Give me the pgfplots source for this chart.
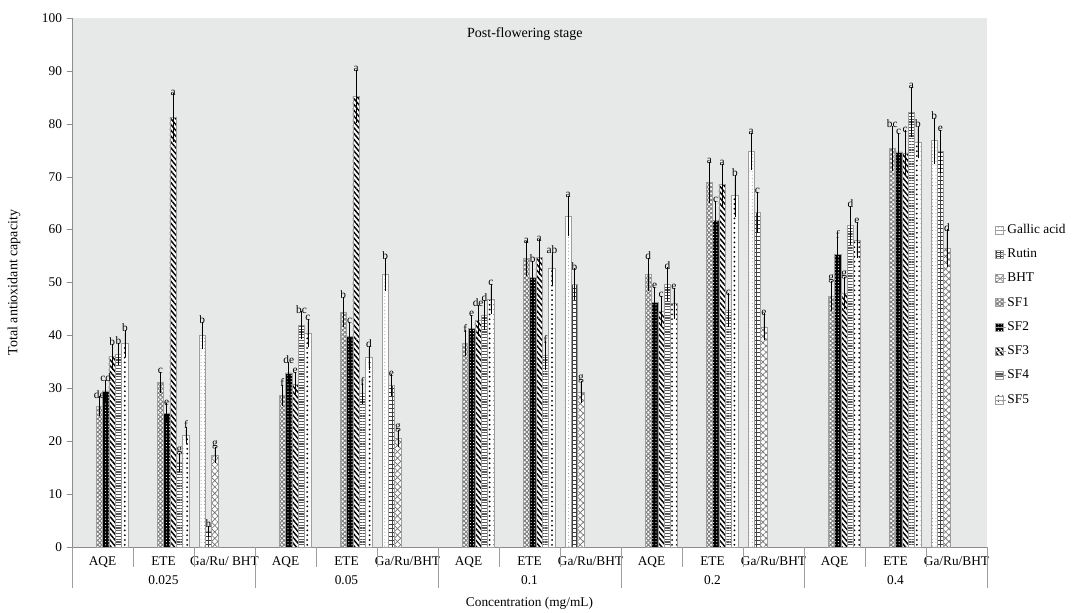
\documentclass[border=0pt]{standalone}
\usepackage{fontspec}
\setmainfont{Liberation Serif}
\usepackage{pgfplots}
\pgfplotsset{compat=1.18}
\usetikzlibrary{patterns.meta}
\definecolor{bgc}{RGB}{231,232,232}
\definecolor{edge}{RGB}{158,158,158}
\definecolor{axc}{RGB}{140,140,140}
\tikzset{
 sGal/.style={draw=edge, fill=white, postaction={pattern color=gray, pattern={Dots[radius=0.35pt, distance=2.6pt]}}},
 sRut/.style={draw=edge, fill=white, postaction={pattern color=black!75, pattern={Hatch[angle=0, distance=3pt, line width=0.55pt]}}},
 sBHT/.style={draw=edge, fill=white, postaction={pattern color=gray!90!black, pattern={Hatch[angle=45, distance=3.4pt, line width=0.5pt]}}},
 sSF1/.style={draw=edge, fill=white, postaction={pattern color=gray, pattern={Hatch[angle=45, distance=2.3pt, line width=0.75pt]}}},
 sSF2/.style={draw=edge, fill=black, postaction={pattern color=white, pattern={Dots[radius=0.45pt, distance=2.4pt]}}},
 sSF3/.style={draw=edge, fill=white, postaction={pattern color=black, pattern={Lines[angle=-50, distance=2.8pt, line width=1.1pt]}}},
 sSF4/.style={draw=edge, fill=white, postaction={pattern color=black!65, pattern={Lines[angle=0, distance=2.1pt, line width=0.8pt]}}},
 sSF5/.style={draw=edge, fill=white, postaction={pattern color=black, pattern={Dots[radius=0.75pt, distance=3.6pt]}}},
}
\begin{document}
\begin{tikzpicture}
\path[use as bounding box] (-54pt,-48.75pt) rectangle (758.25pt,410.25pt);
\begin{axis}[
 at={(0pt,0pt)}, anchor=south west,
 scale only axis, width=686.25pt, height=396.75pt,
 xmin=-0.5, xmax=14.5, ymin=0, ymax=100,
 ybar=0pt, bar width=4.8pt,
 axis background/.style={fill=bgc},
 axis x line*=bottom, axis y line*=left,
 axis line style={axc, line width=0.6pt},
 ytick={0,10,...,100},
 tick align=outside, major tick length=4pt,
 ytick style={axc},
 xtick={0,...,14}, xtick style={draw=none},
 xticklabels={AQE,ETE,Ga/Ru/ BHT,AQE,ETE,Ga/Ru/BHT,AQE,ETE,Ga/Ru/BHT,AQE,ETE,Ga/Ru/BHT,AQE,ETE,Ga/Ru/BHT},
 tick label style={font=\fontsize{10}{12}\selectfont},
 /pgf/number format/assume math mode=true,
 clip=false,
 title={Post-flowering stage},
 title style={at={(0.495,0.955)}, anchor=center, font=\fontsize{10.5}{12}\selectfont},
 point meta=explicit symbolic,
 visualization depends on={\thisrow{e}\as\myerr},
 nodes near coords,
 every node near coord/.append style={font=\fontsize{8.5}{9}\selectfont, text=black, anchor=south, inner sep=0.6pt, yshift=\myerr*3.975pt},
 error bars/y dir=both, error bars/y explicit,
 error bars/error bar style={black, line width=0.5pt},
 error bars/error mark options={black, mark size=2.2pt, line width=0.5pt},
 legend style={at={(1.004,0.62)}, anchor=north west, draw=none, fill=none, font=\fontsize{10}{12}\selectfont, row sep=6.2pt, nodes={inner sep=1pt, text height=7.5pt, text depth=2.5pt}},
 legend cell align=left,
 legend image code/.code={\draw[#1] (0pt,-3pt) rectangle (6pt,3pt); \path (0pt,0pt) -- (8pt,0pt);},
]
\addplot[sGal] table[x=x,y=y,y error=e,meta=l] {
x y e l
2 40.0 2.0 b
5 51.5 2.6 b
8 62.6 3.2 a
11 74.8 3.0 a
14 76.8 3.8 b
};
\addplot[sRut] table[x=x,y=y,y error=e,meta=l] {
x y e l
2 3.0 0.5 h
5 30.6 1.5 e
8 49.7 2.4 b
11 63.3 3.3 c
14 74.8 3.5 e
};
\addplot[sBHT] table[x=x,y=y,y error=e,meta=l] {
x y e l
2 17.4 0.9 g
5 20.5 1.1 g
8 29.3 1.6 g
11 41.6 2.0 e
14 56.5 3.0 d
};
\addplot[sSF1] table[x=x,y=y,y error=e,meta=l] {
x y e l
0 26.6 1.3 de
1 31.1 1.4 c
3 28.7 1.4 f
4 44.4 2.3 b
6 38.5 1.9 f
7 54.5 2.7 a
9 51.5 2.6 d
10 68.9 3.4 a
12 47.4 2.3 g
13 75.3 3.7 bc
};
\addplot[sSF2] table[x=x,y=y,y error=e,meta=l] {
x y e l
0 29.5 1.5 cd
1 25.3 1.3 e
3 32.9 1.6 de
4 39.8 2.2 c
6 41.3 2.0 e
7 51.0 2.5 b
9 46.3 2.3 e
10 61.8 3.1 c
12 55.3 2.8 f
13 74.7 3.0 c
};
\addplot[sSF3] table[x=x,y=y,y error=e,meta=l] {
x y e l
0 36.0 1.9 b
1 81.2 4.0 a
3 30.8 1.7 e
4 85.2 4.5 a
6 42.8 2.4 de
7 54.8 2.8 a
9 44.5 2.4 c
10 68.5 3.4 a
12 48.0 2.4 g
13 74.5 3.7 c
};
\addplot[sSF4] table[x=x,y=y,y error=e,meta=l] {
x y e l
0 36.5 1.5 b
1 16.0 1.2 g
3 41.9 2.1 bc
4 29.0 1.4 f
6 43.8 2.3 d
7 36.2 2.1 f
9 49.7 2.6 d
10 44.8 2.6 c
12 60.8 3.1 d
13 82.2 4.2 a
};
\addplot[sSF5] table[x=x,y=y,y error=e,meta=l] {
x y e l
0 38.5 2.0 b
1 21.1 1.1 f
3 40.4 2.1 c
4 35.8 1.7 d
6 46.9 2.3 c
7 52.6 2.6 ab
9 46.1 2.4 e
10 66.4 3.4 b
12 58.0 2.9 e
13 76.5 2.5 b
};
\legend{Gallic acid, Rutin, BHT, SF1, SF2, SF3, SF4, SF5}
\pgfplotsinvokeforeach{0.5,1.5,3.5,4.5,6.5,7.5,9.5,10.5,12.5,13.5}{
 \draw[edge, line width=0.6pt] (axis cs:#1,0) -- ++(0pt,-15pt);
}
\pgfplotsinvokeforeach{-0.5,2.5,5.5,8.5,11.5,14.5}{
 \draw[edge, line width=0.6pt] (axis cs:#1,0) -- ++(0pt,-30.75pt);
}
\node[font=\fontsize{10}{12}\selectfont] at ([yshift=-24.75pt]axis cs:1,0) {0.025};
\node[font=\fontsize{10}{12}\selectfont] at ([yshift=-24.75pt]axis cs:4,0) {0.05};
\node[font=\fontsize{10}{12}\selectfont] at ([yshift=-24.75pt]axis cs:7,0) {0.1};
\node[font=\fontsize{10}{12}\selectfont] at ([yshift=-24.75pt]axis cs:10,0) {0.2};
\node[font=\fontsize{10}{12}\selectfont] at ([yshift=-24.75pt]axis cs:13,0) {0.4};
\node[font=\fontsize{10}{12}\selectfont] at ([yshift=-42pt]rel axis cs:0.5,0) {Concentration (mg/mL)};
\node[font=\fontsize{10.5}{12}\selectfont, rotate=90] at ([xshift=-43.5pt]rel axis cs:0,0.5) {Total antioxidant capacity};
\end{axis}
\end{tikzpicture}
\end{document}
